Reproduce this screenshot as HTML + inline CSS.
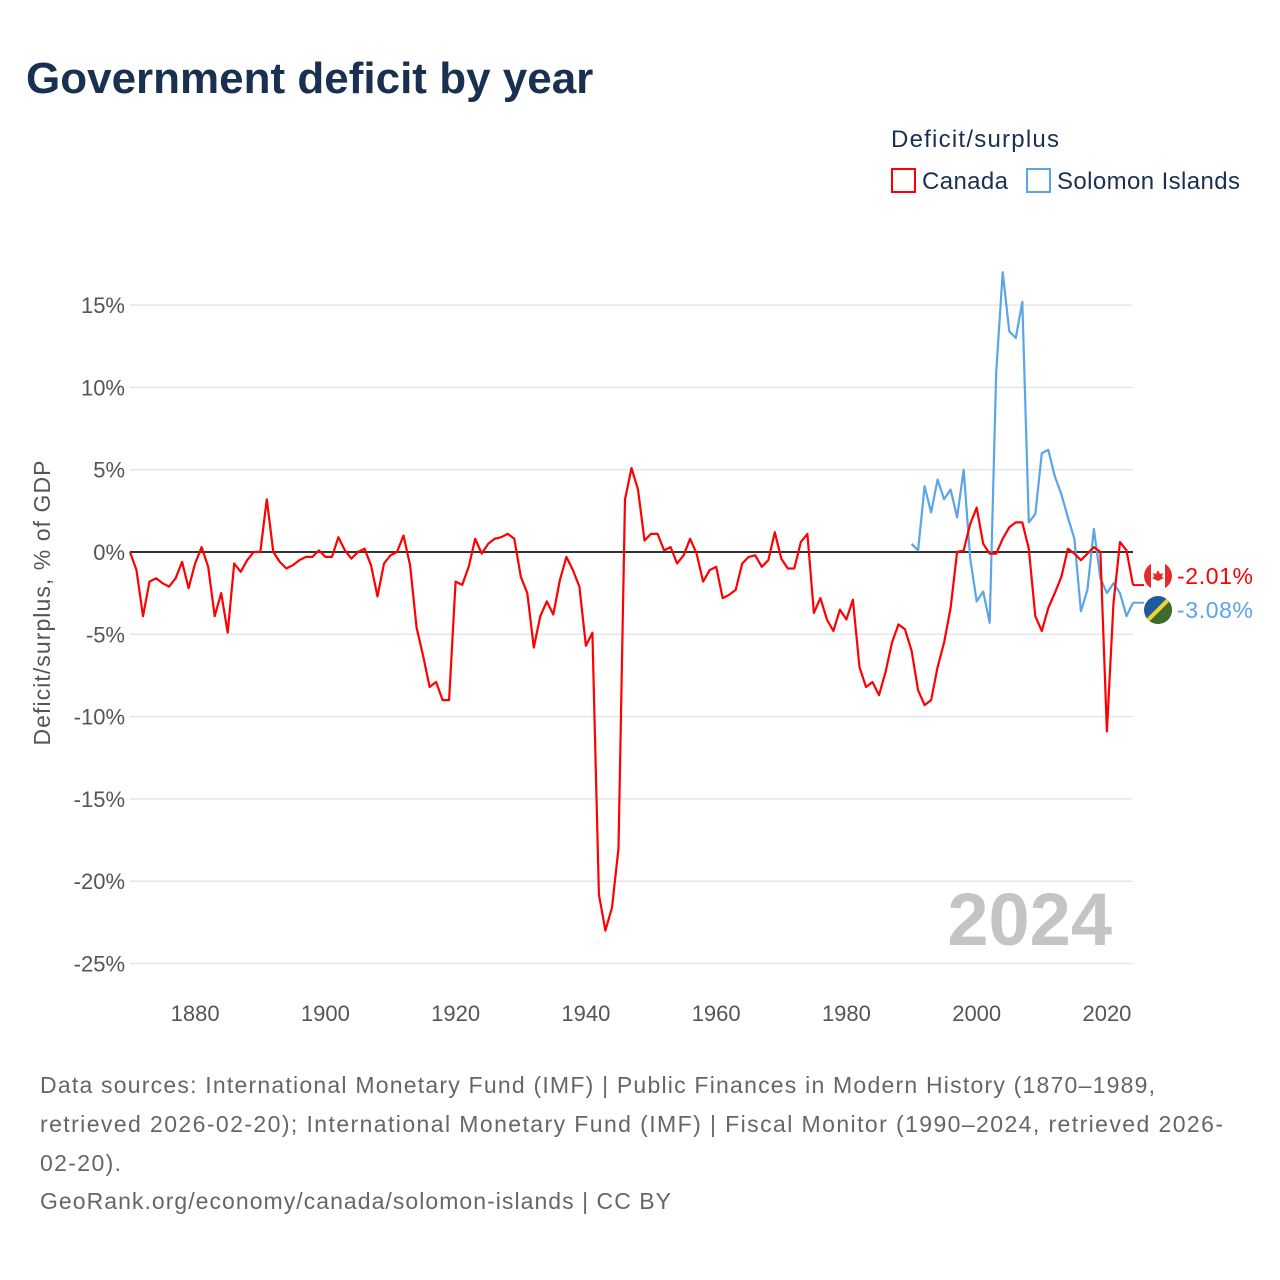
<!DOCTYPE html>
<html><head><meta charset="utf-8"><style>
body{margin:0;background:#fff;font-family:"Liberation Sans",sans-serif;}
svg{display:block}
</style></head><body>
<svg id="chart" width="1280" height="1280">
<text x="26" y="93" font-size="44" font-weight="bold" fill="#1a3050">Government deficit by year</text>
<text x="891" y="147" font-size="24" fill="#1a3050" textLength="168">Deficit/surplus</text>
<g><rect x="892" y="169" width="23" height="23" fill="none" stroke="#ff0000" stroke-width="2"/><text x="922" y="189" font-size="24" fill="#1a3050" textLength="86">Canada</text></g>
<g><rect x="1027" y="169" width="23" height="23" fill="none" stroke="#5aa5e8" stroke-width="2"/><text x="1057" y="189" font-size="24" fill="#1a3050" textLength="183">Solomon Islands</text></g>
<text transform="translate(50,603) rotate(-90)" text-anchor="middle" font-size="23" fill="#555" textLength="285">Deficit/surplus, % of GDP</text>
<g id="grid"></g><g id="yt"></g><g id="xt"></g>
<text x="1112" y="945" text-anchor="end" font-size="74" font-weight="bold" fill="#c4c4c4">2024</text>
<g id="series"></g>
<g>
<clipPath id="c1"><circle cx="1158" cy="576" r="14"/></clipPath>
<g clip-path="url(#c1)"><rect x="1144" y="562" width="28" height="28" fill="#fff"/><rect x="1144" y="562" width="7" height="28" fill="#e52b2b"/><rect x="1165" y="562" width="7" height="28" fill="#e52b2b"/><path d="M1158 570 l2 4 3-1 -1 4 2 1 -6 3 -6-3 2-1 -1-4 3 1z" fill="#e52b2b"/></g></g>
<g>
<clipPath id="c2"><circle cx="1158" cy="610" r="14"/></clipPath>
<g clip-path="url(#c2)"><rect x="1144" y="596" width="28" height="28" fill="#1f5a9e"/><path d="M1172 596 L1172 624 L1144 624z" fill="#3d6b2a"/><path d="M1144 624 L1172 596" stroke="#f2d22e" stroke-width="4"/></g></g>
<text x="1177" y="584" font-size="23" fill="#ff0000" textLength="76">-2.01%</text>
<text x="1177" y="618" font-size="23" fill="#5aa5e8" textLength="76">-3.08%</text>
<g font-size="23" fill="#666">
<text x="40" y="1093" textLength="1115">Data sources: International Monetary Fund (IMF) | Public Finances in Modern History (1870–1989,</text>
<text x="40" y="1132" textLength="1183">retrieved 2026-02-20); International Monetary Fund (IMF) | Fiscal Monitor (1990–2024, retrieved 2026-</text>
<text x="40" y="1171" textLength="81">02-20).</text>
<text x="40" y="1209" textLength="631">GeoRank.org/economy/canada/solomon-islands | CC BY</text>
</g>
</svg>
<script>
const canadaStart = 1870;
const canadaValues = [0,-1.1,-3.9,-1.8,-1.6,-1.9,-2.1,-1.6,-0.6,-2.2,-0.7,0.3,-0.9,-3.9,-2.5,-4.9,-0.7,-1.2,-0.5,0,0,3.2,0,-0.6,-1.0,-0.8,-0.5,-0.3,-0.3,0.1,-0.3,-0.3,0.9,0.1,-0.4,0,0.2,-0.8,-2.7,-0.7,-0.2,0,1.0,-0.8,-4.6,-6.3,-8.2,-7.9,-9.0,-9.0,-1.8,-2.0,-0.9,0.8,-0.1,0.5,0.8,0.9,1.1,0.8,-1.5,-2.5,-5.8,-3.9,-3.0,-3.8,-1.7,-0.3,-1.1,-2.1,-5.7,-4.9,-20.8,-23.0,-21.6,-18.0,3.2,5.1,3.8,0.7,1.1,1.1,0.1,0.3,-0.7,-0.2,0.8,-0.1,-1.8,-1.1,-0.9,-2.8,-2.6,-2.3,-0.7,-0.3,-0.2,-0.9,-0.5,1.2,-0.4,-1.0,-1.0,0.6,1.1,-3.7,-2.8,-4.1,-4.8,-3.5,-4.1,-2.9,-7.0,-8.2,-7.9,-8.7,-7.3,-5.5,-4.4,-4.7,-6.0,-8.4,-9.3,-9.0,-7.0,-5.5,-3.4,0,0.1,1.7,2.7,0.5,-0.1,-0.1,0.8,1.5,1.8,1.8,0.2,-3.9,-4.8,-3.4,-2.5,-1.5,0.2,-0.1,-0.5,-0.1,0.3,0,-10.9,-3.1,0.6,0.1,-2.01];
const solomonStart = 1990;
const solomonValues = [0.5,0.1,4.0,2.4,4.4,3.2,3.8,2.1,5.0,-0.4,-3.0,-2.4,-4.3,10.9,17.0,13.4,13.0,15.2,1.8,2.3,6.0,6.2,4.6,3.5,2.1,0.8,-3.6,-2.3,1.4,-1.6,-2.5,-1.9,-2.5,-3.9,-3.08];
const yTicks = [15,10,5,0,-5,-10,-15,-20,-25];
const xTicks = [1880,1900,1920,1940,1960,1980,2000,2020];
const NS='http://www.w3.org/2000/svg';
const X0=130, X1=1133, Y0=1870, Y1=2024;
const xs = y => X0+(y-Y0)*(X1-X0)/(Y1-Y0);
const ys = v => 552 - v*16.46;
function mk(tag, attrs, parent){const e=document.createElementNS(NS,tag);for(const k in attrs)e.setAttribute(k,attrs[k]);parent.appendChild(e);return e;}
const grid=document.getElementById('grid'), yt=document.getElementById('yt'), xt=document.getElementById('xt'), ser=document.getElementById('series');
yTicks.forEach(v=>{
  if(v!==0){const l=mk('line',{x1:X0,x2:X1,y1:ys(v),y2:ys(v),stroke:'#e6e6e6','stroke-width':1.5},grid);
  
  }
  const t=mk('text',{x:125,y:ys(v)+8,'text-anchor':'end','font-size':22,fill:'#555'},yt);
  t.textContent=v+'%';
  
  
});
xTicks.forEach(y=>{
  const t=mk('text',{x:xs(y),y:1021,'text-anchor':'middle','font-size':22,fill:'#555'},xt);
  t.textContent=y;
  
  
});
const zl=mk('line',{x1:X0,x2:X1,y1:ys(0),y2:ys(0),stroke:'#333','stroke-width':2},grid);


function line(start, vals, color, name){
  const pts=vals.map((v,i)=>xs(start+i).toFixed(1)+','+ys(v).toFixed(1)).join(' ');
  const p=mk('polyline',{points:pts,fill:'none',stroke:color,'stroke-width':2.2,'stroke-linejoin':'round'},ser);
  
  
  const last=vals[vals.length-1];
  const c=mk('line',{x1:xs(start+vals.length-1),x2:1144,y1:ys(last),y2:ys(last),stroke:color,'stroke-width':2},ser);
  
  
}
line(solomonStart, solomonValues, '#5aa5e8', 'solomon-islands-line');
line(canadaStart, canadaValues, '#ff0000', 'canada-line');
</script>
</body></html>
